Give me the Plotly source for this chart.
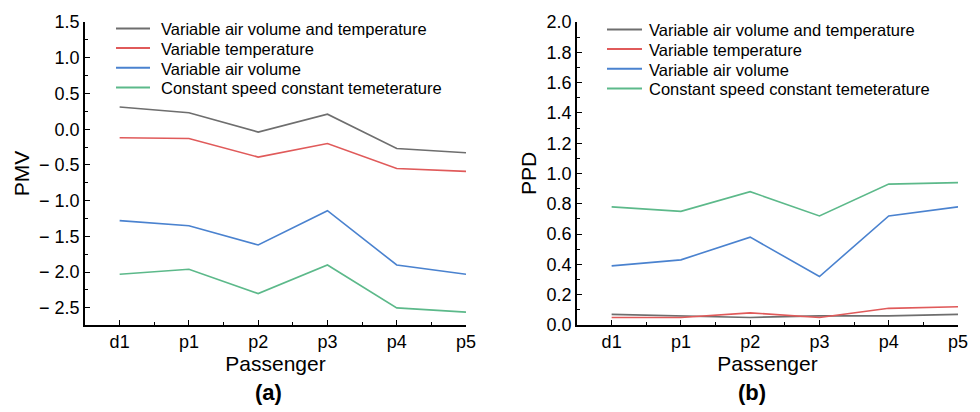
import plotly.graph_objects as go
from plotly.subplots import make_subplots

categories = ["d1", "p1", "p2", "p3", "p4", "p5"]
series_names = [
    "Variable air volume and temperature",
    "Variable temperature",
    "Variable air volume",
    "Constant speed constant temeterature",
]
pmv_vavt = [0.31, 0.23, -0.04, 0.21, -0.27, -0.33]
pmv_vt = [-0.12, -0.13, -0.39, -0.20, -0.55, -0.59]
pmv_vav = [-1.28, -1.35, -1.62, -1.14, -1.90, -2.03]
pmv_csct = [-2.03, -1.96, -2.30, -1.90, -2.50, -2.56]

ppd_vavt = [0.07, 0.06, 0.05, 0.06, 0.06, 0.07]
ppd_vt = [0.05, 0.05, 0.08, 0.05, 0.11, 0.12]
ppd_vav = [0.39, 0.43, 0.58, 0.32, 0.72, 0.78]
ppd_csct = [0.78, 0.75, 0.88, 0.72, 0.93, 0.94]

pmv_ticks = [1.5, 1.0, 0.5, 0.0, -0.5, -1.0, -1.5, -2.0, -2.5]
pmv_ticktext = ["1.5", "1.0", "0.5", "0.0", "− 0.5", "− 1.0", "− 1.5", "− 2.0", "− 2.5"]
ppd_ticks = [0.0, 0.2, 0.4, 0.6, 0.8, 1.0, 1.2, 1.4, 1.6, 1.8, 2.0]

colors = ["#6e6e6e", "#e05a5a", "#4a82cf", "#5cb98a"]
FONT = "Arial, Liberation Sans, sans-serif"

W, H = 980, 412
L, R, T, B = 85, 22, 17, 87
PW, PH = W - L - R, H - T - B


def fx(x):
    return (x - L) / PW


def fy(y):
    return (H - B - y) / PH


xpos = list(range(len(categories)))

fig = make_subplots(rows=1, cols=2)
pmv = [pmv_vavt, pmv_vt, pmv_vav, pmv_csct]
ppd = [ppd_vavt, ppd_vt, ppd_vav, ppd_csct]
for i in range(4):
    fig.add_trace(go.Scatter(x=xpos, y=pmv[i], mode="lines", name=series_names[i],
                             line=dict(color=colors[i], width=1.6), showlegend=False), row=1, col=1)
for i in range(4):
    fig.add_trace(go.Scatter(x=xpos, y=ppd[i], mode="lines", name=series_names[i],
                             line=dict(color=colors[i], width=1.6), showlegend=False), row=1, col=2)

axis_common = dict(showgrid=False, zeroline=False, showline=True, linecolor="black", linewidth=1.5,
                   ticks="inside", ticklen=5, tickwidth=1.3, tickcolor="black",
                   tickfont=dict(family=FONT, size=18, color="black"))
xcommon = dict(axis_common, range=[-0.5, 5], tickmode="array", tickvals=xpos, ticktext=categories,
               minor=dict(tickvals=[0.5, 1.5, 2.5, 3.5, 4.5], ticks="inside", ticklen=3,
                          tickwidth=1.2, tickcolor="black"),
               title=dict(text="Passenger", font=dict(family=FONT, size=21, color="black"), standoff=2))

fig.update_xaxes(domain=[0, 381 / PW], **xcommon, row=1, col=1)
fig.update_xaxes(domain=[492 / PW, 1], **xcommon, row=1, col=2)

fig.update_yaxes(domain=[0, 1], range=[-2.74, 1.5], tickmode="array", tickvals=pmv_ticks,
                 ticktext=pmv_ticktext,
                 minor=dict(tickvals=[1.25, 0.75, 0.25, -0.25, -0.75, -1.25, -1.75, -2.25],
                            ticks="inside", ticklen=3, tickwidth=1.2, tickcolor="black"),
                 title=dict(text="PMV", font=dict(family=FONT, size=21, color="black"), standoff=4),
                 **axis_common, row=1, col=1)
fig.update_yaxes(domain=[0, 1], range=[0, 2.0], tickmode="array", tickvals=ppd_ticks,
                 ticktext=[f"{v:.1f}" for v in ppd_ticks],
                 minor=dict(tickvals=[0.1, 0.3, 0.5, 0.7, 0.9, 1.1, 1.3, 1.5, 1.7, 1.9],
                            ticks="inside", ticklen=3, tickwidth=1.2, tickcolor="black"),
                 title=dict(text="PPD", font=dict(family=FONT, size=21, color="black"), standoff=4),
                 **axis_common, row=1, col=2)

# custom compact legends
shapes = []
annotations = []
leg_specs = [
    (116, 150, 160, [23.5, 43.5, 63.5, 83.5]),
    (607, 642, 648, [24.5, 44.5, 64.5, 84.5]),
]
for x0, x1, xt, ly in leg_specs:
    for i in range(4):
        shapes.append(dict(type="line", xref="paper", yref="paper", x0=fx(x0), x1=fx(x1),
                           y0=fy(ly[i]), y1=fy(ly[i]), line=dict(color=colors[i], width=2)))
        annotations.append(dict(text=series_names[i], xref="paper", yref="paper", x=fx(xt),
                                y=fy(ly[i] + 1), xanchor="left", yanchor="middle", showarrow=False,
                                borderpad=0,
                                font=dict(family=FONT, size=16.5, color="black")))

for label, cx in [("(a)", 268), ("(b)", 752)]:
    annotations.append(dict(text=f"<b>{label}</b>", xref="paper", yref="paper", x=fx(cx), y=fy(394),
                            xanchor="center", yanchor="middle", showarrow=False,
                            font=dict(family=FONT, size=22, color="black")))

fig.update_layout(width=W, height=H, margin=dict(l=L, r=R, t=T, b=B),
                  paper_bgcolor="white", plot_bgcolor="white", showlegend=False,
                  shapes=shapes, annotations=annotations)

fig.write_html("out.html", config={"displayModeBar": False},
               post_script="document.body.style.margin='0';document.body.style.overflow='hidden';")
